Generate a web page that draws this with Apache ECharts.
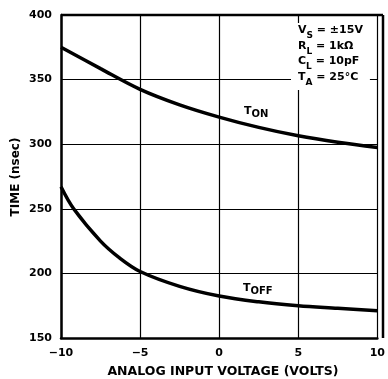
<!DOCTYPE html>
<html>
<head>
<meta charset="utf-8">
<script src="https://cdn.jsdelivr.net/npm/echarts@6/dist/echarts.min.js"></script>
<style>
  html, body { margin: 0; padding: 0; background: #fff; }
  #chart { width: 388px; height: 379px; }
</style>
</head>
<body>
<div id="chart"></div>
<script>
// input voltage (V) and switching times (nsec)
const tonX = [-10, -7.5, -5, -2.5, 0, 2.5, 5, 7.5, 10]
const tonY = [375, 358.5, 342.5, 330.5, 321, 313, 306.5, 301.5, 297.5]
const toffX = [-10, -9.2, -7.5, -6.3, -5, -2.5, 0, 2.5, 5, 7.5, 10]
const toffY = [267, 250, 225, 212, 201.5, 190, 182.5, 178, 175, 173, 171]

const xTicks = [-10, -5, 0, 5, 10]
const yTicks = [150, 200, 250, 300, 350, 400]

const font = 'DejaVu Sans, Arial, sans-serif'
const zip = (xs, ys) => xs.map((x, i) => [x, ys[i]])

const chart = echarts.init(document.getElementById('chart'))

const subText = (left, top, main, sub) => ({
  type: 'text', left, top, z: 6,
  style: {
    text: `{m|${main}}{s|${sub}}`,
    rich: {
      m: { fontFamily: font, fontWeight: 'bold', fontSize: 11, fill: '#000' },
      s: { fontFamily: font, fontWeight: 'bold', fontSize: 10, fill: '#000', padding: [5, 0, 0, 0] },
    },
  },
})

const option = {
  animation: false,
  backgroundColor: '#fff',
  grid: { left: 61, right: 5, top: 15, bottom: 41 },
  xAxis: {
    type: 'value',
    min: xTicks[0],
    max: xTicks[xTicks.length - 1],
    interval: 5,
    axisLine: { show: true, onZero: false, lineStyle: { color: '#000', width: 2.5 } },
    axisTick: { show: false },
    axisLabel: {
      color: '#000', fontFamily: font, fontWeight: 'bold', fontSize: 11, margin: 10,
      formatter: (v) => (v < 0 ? '\u2212' + Math.abs(v) : String(v)),
    },
    splitLine: { show: true, lineStyle: { color: '#000', width: 1.2 } },
  },
  yAxis: {
    type: 'value',
    min: yTicks[0],
    max: yTicks[yTicks.length - 1],
    interval: 50,
    axisLine: { show: true, onZero: false, lineStyle: { color: '#000', width: 2.5 } },
    axisTick: { show: false },
    axisLabel: { color: '#000', fontFamily: font, fontWeight: 'bold', fontSize: 11, margin: 9 },
    splitLine: { show: true, lineStyle: { color: '#000', width: 1.2 } },
  },
  series: [
    {
      name: 'TON',
      type: 'line',
      smooth: 0.35,
      symbol: 'none',
      lineStyle: { color: '#000', width: 3.5 },
      data: zip(tonX, tonY),
      z: 3,
    },
    {
      name: 'TOFF',
      type: 'line',
      smooth: 0.35,
      symbol: 'none',
      lineStyle: { color: '#000', width: 3.5 },
      data: zip(toffX, toffY),
      z: 3,
    },
  ],
  graphic: [
    // right and top frame
    { type: 'line', shape: { x1: 383, y1: 15, x2: 383, y2: 338 }, style: { stroke: '#000', lineWidth: 2.5 }, z: 5 },
    { type: 'line', shape: { x1: 61, y1: 15, x2: 383, y2: 15 }, style: { stroke: '#000', lineWidth: 2.5 }, z: 5 },
    // conditions box
    {
      type: 'text',
      left: 291,
      top: 23,
      z: 6,
      style: {
        text: '{m|V}{s|S}{m| = \u00b115V}\n{m|R}{s|L}{m| = 1k\u03a9}\n{m|C}{s|L}{m| = 10pF}\n{m|T}{s|A}{m| = 25\u00b0C}',
        backgroundColor: '#fff',
        padding: [2, 7, 3, 7],
        lineHeight: 15.5,
        rich: {
          m: { fontFamily: font, fontWeight: 'bold', fontSize: 11, fill: '#000', lineHeight: 15.5, verticalAlign: 'top' },
          s: { fontFamily: font, fontWeight: 'bold', fontSize: 9, fill: '#000', lineHeight: 15.5, verticalAlign: 'bottom', padding: [6, 0, 0, 0] },
        },
      },
    },
    // curve labels
    subText(244, 106, 'T', 'ON'),
    subText(243, 283, 'T', 'OFF'),
    // axis titles
    {
      type: 'text', x: 16, y: 177, rotation: Math.PI / 2, z: 6,
      style: {
        text: 'TIME (nsec)', fontFamily: font, fontWeight: 'bold', fontSize: 12, fill: '#000',
        align: 'center', verticalAlign: 'middle',
      },
    },
    {
      type: 'text', x: 223, y: 372, z: 6,
      style: {
        text: 'ANALOG INPUT VOLTAGE (VOLTS)', fontFamily: font, fontWeight: 'bold', fontSize: 12.5, fill: '#000',
        align: 'center', verticalAlign: 'middle',
      },
    },
  ],
}

chart.setOption(option)
</script>
</body>
</html>
